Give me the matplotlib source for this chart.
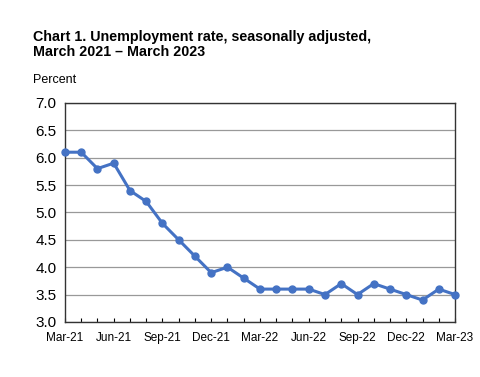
import matplotlib
matplotlib.use("Agg")
import matplotlib.pyplot as plt
import numpy as np

plt.rcParams['font.family'] = ['Liberation Sans', 'DejaVu Sans']

# monthly unemployment rate, Mar-21 .. Mar-23
months = ["Mar-21", "Apr-21", "May-21", "Jun-21", "Jul-21", "Aug-21", "Sep-21",
          "Oct-21", "Nov-21", "Dec-21", "Jan-22", "Feb-22", "Mar-22", "Apr-22",
          "May-22", "Jun-22", "Jul-22", "Aug-22", "Sep-22", "Oct-22", "Nov-22",
          "Dec-22", "Jan-23", "Feb-23", "Mar-23"]
rate = [6.1, 6.1, 5.8, 5.9, 5.4, 5.2, 4.8, 4.5, 4.2, 3.9, 4.0, 3.8, 3.6, 3.6,
        3.6, 3.6, 3.5, 3.7, 3.5, 3.7, 3.6, 3.5, 3.4, 3.6, 3.5]
yticks = [3.0, 3.5, 4.0, 4.5, 5.0, 5.5, 6.0, 6.5, 7.0]

x = np.arange(len(months))

fig = plt.figure(figsize=(4.81, 3.77), dpi=100)
ax = fig.add_axes([0.135, 0.146, 0.811, 0.581])

ax.plot(x, rate, color='#4472C4', lw=2.2, marker='o', ms=5, zorder=3, clip_on=False)

ax.set_xlim(0, len(months) - 1)
ax.set_ylim(3.0, 7.0)
ax.set_yticks(yticks)
ax.set_yticklabels([f"{v:.1f}" for v in yticks], fontsize=11)
ax.yaxis.grid(True, color='#999999', lw=0.9)
ax.set_axisbelow(True)

ax.set_xticks(x[::3])
ax.set_xticklabels(months[::3], fontsize=8.5)
ax.set_xticks(x, minor=True)
ax.tick_params(axis='x', which='both', direction='in', length=3, width=0.8, pad=7)
ax.tick_params(axis='y', length=0, pad=6)

for s in ax.spines.values():
    s.set_color('#333333')
    s.set_linewidth(1.0)

fig.text(0.068, 0.882, "Chart 1. Unemployment rate, seasonally adjusted,\nMarch 2021 \u2013 March 2023",
         fontsize=10.3, fontweight='bold', va='center', linespacing=1.1)
fig.text(0.068, 0.789, "Percent", fontsize=9, va='center')

fig.savefig("out.png", dpi=100)
